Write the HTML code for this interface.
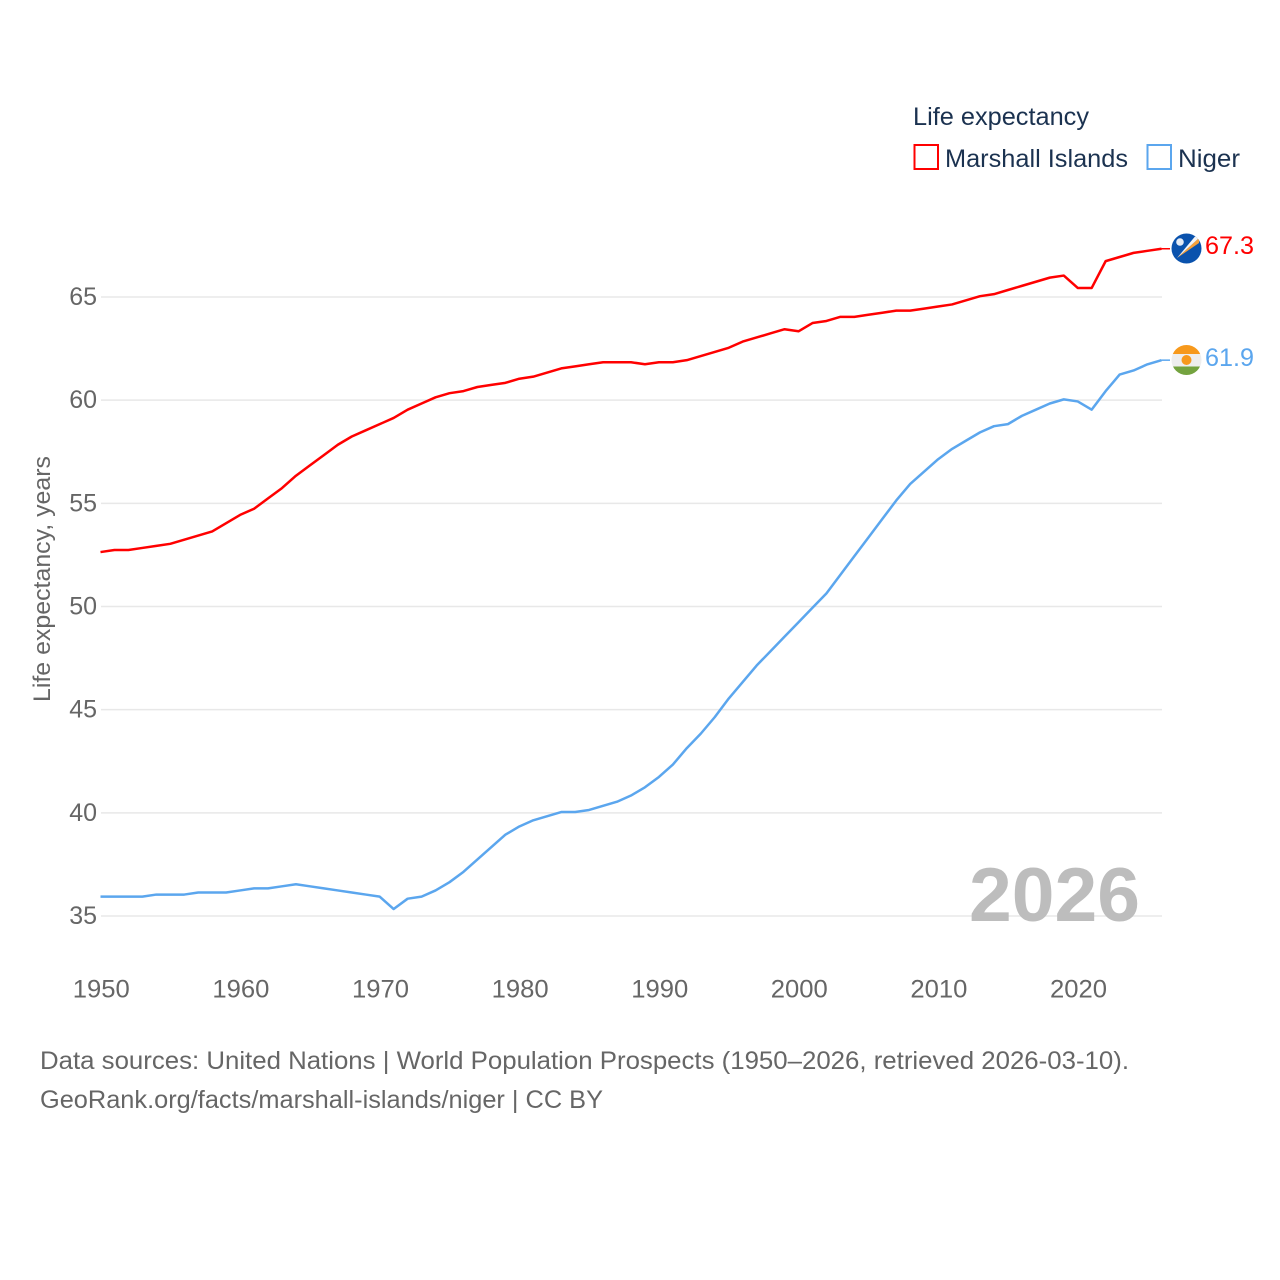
<!DOCTYPE html>
<html lang="en">
<head>
<meta charset="utf-8">
<title>Life expectancy: Marshall Islands and Niger</title>
<style>
html,body{margin:0;padding:0;background:#fff;}
svg{display:block;}
text{font-family:"Liberation Sans",sans-serif;}
</style>
</head>
<body>
<svg id="chart" xmlns="http://www.w3.org/2000/svg" width="1280" height="1280" viewBox="0 0 1280 1280">
  <rect width="1280" height="1280" fill="#fff"/>
  <g id="grid"></g>
  <g id="yticks"></g>
  <g id="xticks"></g>
  <text transform="translate(50,702) rotate(-90)" font-size="24" fill="#666" textLength="246" lengthAdjust="spacingAndGlyphs">Life expectancy, years</text>
  <text x="969" y="921" font-size="76" font-weight="700" fill="#bdbdbd" textLength="171" lengthAdjust="spacingAndGlyphs">2026</text>
  <g id="series"></g>

  <g>
    <text x="913" y="125" font-size="25" fill="#1b3250" textLength="176" lengthAdjust="spacingAndGlyphs">Life expectancy</text>
    <g>
      <rect x="914.5" y="145" width="23.5" height="24" fill="#fff" stroke="#ff0000" stroke-width="2"/>
      <text x="945" y="167" font-size="25" fill="#1b3250" textLength="183" lengthAdjust="spacingAndGlyphs">Marshall Islands</text>
    </g>
    <g>
      <rect x="1147.5" y="145" width="23.5" height="24" fill="#fff" stroke="#5ba6ee" stroke-width="2"/>
      <text x="1178" y="167" font-size="25" fill="#1b3250" textLength="62" lengthAdjust="spacingAndGlyphs">Niger</text>
    </g>
  </g>

  <defs>
    <clipPath id="clip-mh"><circle cx="1186.5" cy="248.5" r="15"/></clipPath>
    <clipPath id="clip-ne"><circle cx="1186.5" cy="360" r="15"/></clipPath>
  </defs>
  <g clip-path="url(#clip-mh)">
    <rect x="1171" y="233" width="31" height="31" fill="#0a52ad"/>
    <polygon points="1177,258 1199,238 1199,243" fill="#f7a13a"/>
    <polygon points="1177,258 1195,236.5 1199,238" fill="#f4f4f4"/>
    <circle cx="1180" cy="242" r="3.8" fill="#e4ebf5"/>
  </g>
  <g clip-path="url(#clip-ne)">
    <rect x="1171" y="345" width="31" height="9" fill="#f7991c"/>
    <rect x="1171" y="354" width="31" height="12.5" fill="#eeeeee"/>
    <rect x="1171" y="366.5" width="31" height="9" fill="#74a33f"/>
    <circle cx="1186.5" cy="360" r="5" fill="#f7991c"/>
  </g>
  <text x="1205" y="254" font-size="25" fill="#ff0000" textLength="49" lengthAdjust="spacingAndGlyphs">67.3</text>
  <text x="1205" y="366" font-size="25" fill="#5ba6ee" textLength="49" lengthAdjust="spacingAndGlyphs">61.9</text>

  <text x="40" y="1069" font-size="25" fill="#666" textLength="1089" lengthAdjust="spacingAndGlyphs">Data sources: United Nations | World Population Prospects (1950–2026, retrieved 2026-03-10).</text>
  <text x="40" y="1108" font-size="25" fill="#666" textLength="563" lengthAdjust="spacingAndGlyphs">GeoRank.org/facts/marshall-islands/niger | CC BY</text>
</svg>
<script>
var years = [];
for (var yr = 1950; yr <= 2026; yr++) { years.push(yr); }
var yTickValues = [35, 40, 45, 50, 55, 60, 65];
var xTickValues = [1950, 1960, 1970, 1980, 1990, 2000, 2010, 2020];
var marshallIslands = [52.6,52.7,52.7,52.8,52.9,53.0,53.2,53.4,53.6,54.0,54.4,54.7,55.2,55.7,56.3,56.8,57.3,57.8,58.2,58.5,58.8,59.1,59.5,59.8,60.1,60.3,60.4,60.6,60.7,60.8,61.0,61.1,61.3,61.5,61.6,61.7,61.8,61.8,61.8,61.7,61.8,61.8,61.9,62.1,62.3,62.5,62.8,63.0,63.2,63.4,63.3,63.7,63.8,64.0,64.0,64.1,64.2,64.3,64.3,64.4,64.5,64.6,64.8,65.0,65.1,65.3,65.5,65.7,65.9,66.0,65.4,65.4,66.7,66.9,67.1,67.2,67.3];
var niger = [35.9,35.9,35.9,35.9,36.0,36.0,36.0,36.1,36.1,36.1,36.2,36.3,36.3,36.4,36.5,36.4,36.3,36.2,36.1,36.0,35.9,35.3,35.8,35.9,36.2,36.6,37.1,37.7,38.3,38.9,39.3,39.6,39.8,40.0,40.0,40.1,40.3,40.5,40.8,41.2,41.7,42.3,43.1,43.8,44.6,45.5,46.3,47.1,47.8,48.5,49.2,49.9,50.6,51.5,52.4,53.3,54.2,55.1,55.9,56.5,57.1,57.6,58.0,58.4,58.7,58.8,59.2,59.5,59.8,60.0,59.9,59.5,60.4,61.2,61.4,61.7,61.9];

var NS = 'http://www.w3.org/2000/svg';
function xScale(year) { return 101 + (year - 1950) * (1162 - 101) / 76; }
function yScale(value) { return 916 - (value - 35) * (916 - 297) / 30; }
function lineX(year) { return xScale(year) - 0.5; }
function lineY(value) { return yScale(value) - 0.8; }

var gridGroup = document.getElementById('grid');
var yTickGroup = document.getElementById('yticks');
var xTickGroup = document.getElementById('xticks');
var seriesGroup = document.getElementById('series');

yTickValues.forEach(function (v) {
  var line = document.createElementNS(NS, 'line');
  
  
  line.setAttribute('x1', 101);
  line.setAttribute('x2', 1162);
  line.setAttribute('y1', yScale(v));
  line.setAttribute('y2', yScale(v));
  line.setAttribute('stroke', '#e8e8e8');
  line.setAttribute('stroke-width', '1.5');
  gridGroup.appendChild(line);

  var label = document.createElementNS(NS, 'text');
  
  
  label.setAttribute('x', 97);
  label.setAttribute('y', yScale(v) + 8);
  label.setAttribute('text-anchor', 'end');
  label.setAttribute('font-size', '25');
  label.setAttribute('fill', '#666');
  label.textContent = v;
  yTickGroup.appendChild(label);
});

xTickValues.forEach(function (v) {
  var label = document.createElementNS(NS, 'text');
  
  
  label.setAttribute('x', xScale(v) + 0.3 - 28.5);
  label.setAttribute('y', 997.5);
  label.setAttribute('font-size', '25');
  label.setAttribute('fill', '#666');
  label.setAttribute('textLength', '57');
  label.setAttribute('lengthAdjust', 'spacingAndGlyphs');
  label.textContent = v;
  xTickGroup.appendChild(label);
});

function drawSeries(values, color, key) {
  var pts = values.map(function (v, i) {
    return lineX(years[i]).toFixed(2) + ',' + lineY(v).toFixed(2);
  });
  var path = document.createElementNS(NS, 'polyline');
  
  
  path.setAttribute('points', pts.join(' '));
  path.setAttribute('fill', 'none');
  path.setAttribute('stroke', color);
  path.setAttribute('stroke-width', '2.5');
  path.setAttribute('stroke-linejoin', 'round');
  seriesGroup.appendChild(path);

  var last = values[values.length - 1];
  var connector = document.createElementNS(NS, 'line');
  
  
  connector.setAttribute('x1', lineX(years[years.length - 1]));
  connector.setAttribute('x2', 1170);
  connector.setAttribute('y1', lineY(last));
  connector.setAttribute('y2', lineY(last));
  connector.setAttribute('stroke', color);
  connector.setAttribute('stroke-width', '1.5');
  seriesGroup.appendChild(connector);
}
drawSeries(marshallIslands, '#ff0000', 'marshall-islands');
drawSeries(niger, '#5ba6ee', 'niger');
</script>
</body>
</html>
